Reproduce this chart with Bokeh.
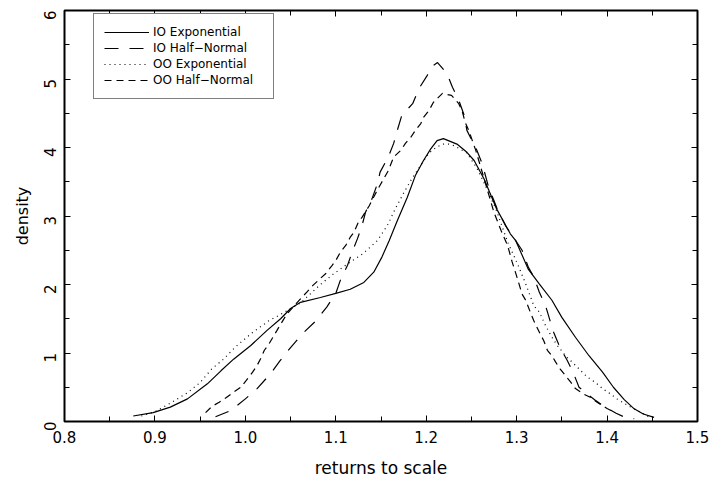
import math
from bokeh.plotting import figure
from bokeh.models import (Range1d, FixedTicker, LinearAxis, Legend, LegendItem)
from bokeh.embed import file_html
from bokeh.resources import INLINE

# ---------------- data ----------------
io_exp_x = [0.876, 0.898, 0.917, 0.936, 0.958, 0.973, 0.987, 1.006, 1.024, 1.039, 1.050, 1.061,
            1.083, 1.100, 1.116, 1.131, 1.142, 1.151, 1.159, 1.168, 1.179, 1.188, 1.197, 1.205,
            1.212, 1.219, 1.234, 1.245, 1.253, 1.264, 1.278, 1.293, 1.299, 1.313, 1.325, 1.339,
            1.350, 1.365, 1.380, 1.395, 1.407, 1.419, 1.430, 1.440, 1.452]
io_exp_y = [0.08, 0.13, 0.21, 0.33, 0.55, 0.74, 0.91, 1.11, 1.33, 1.50, 1.65, 1.74,
            1.81, 1.87, 1.93, 2.03, 2.18, 2.40, 2.64, 2.93, 3.27, 3.59, 3.81, 3.98,
            4.10, 4.13, 4.05, 3.93, 3.81, 3.54, 3.10, 2.74, 2.64, 2.22, 2.01, 1.77,
            1.52, 1.23, 0.96, 0.72, 0.50, 0.32, 0.185, 0.11, 0.06]

io_hn_x = [0.967, 0.984, 1.000, 1.013, 1.028, 1.038, 1.050, 1.063, 1.078, 1.090, 1.100, 1.105,
           1.113, 1.118, 1.124, 1.129, 1.133, 1.140, 1.146, 1.149, 1.158, 1.164, 1.168, 1.173,
           1.185, 1.192, 1.201, 1.208, 1.2125, 1.223, 1.229, 1.236, 1.242, 1.245, 1.256, 1.262,
           1.269, 1.278, 1.288, 1.300, 1.306, 1.313, 1.319, 1.325, 1.332, 1.337, 1.341, 1.348,
           1.356, 1.363, 1.369, 1.378, 1.387, 1.398, 1.410, 1.420, 1.430]
io_hn_y = [0.07, 0.16, 0.33, 0.48, 0.70, 0.88, 1.08, 1.28, 1.47, 1.67, 1.87, 2.06,
           2.28, 2.47, 2.67, 2.86, 3.06, 3.25, 3.47, 3.64, 3.86, 4.06, 4.25, 4.47,
           4.64, 4.86, 5.05, 5.20, 5.24, 5.08, 4.88, 4.69, 4.47, 4.25, 3.96, 3.76,
           3.42, 3.12, 2.85, 2.62, 2.50, 2.25, 2.11, 1.89, 1.69, 1.47, 1.30, 1.08,
           0.89, 0.70, 0.50, 0.40, 0.31, 0.21, 0.12, 0.06, 0.04]

oo_exp_x = [0.885, 0.901, 0.920, 0.936, 0.950, 0.963, 0.975, 0.990, 1.008, 1.026, 1.044, 1.061,
            1.083, 1.097, 1.114, 1.130, 1.146, 1.157, 1.166, 1.174, 1.183, 1.194, 1.203, 1.212,
            1.219, 1.225, 1.232, 1.245, 1.256, 1.267, 1.278, 1.290, 1.301, 1.310, 1.319, 1.325,
            1.332, 1.339, 1.345, 1.354, 1.365, 1.378, 1.387, 1.395, 1.404, 1.411, 1.426, 1.441,
            1.446]
oo_exp_y = [0.08, 0.15, 0.29, 0.42, 0.57, 0.77, 0.90, 1.10, 1.30, 1.47, 1.60, 1.73,
            2.00, 2.15, 2.31, 2.45, 2.64, 2.86, 3.11, 3.31, 3.52, 3.74, 3.92, 4.01,
            4.05, 4.05, 4.02, 3.92, 3.70, 3.40, 3.07, 2.62, 2.30, 2.01, 1.69, 1.60,
            1.40, 1.23, 1.11, 0.96, 0.82, 0.65, 0.57, 0.48, 0.40, 0.33, 0.21, 0.11,
            0.07]

oo_hn_x = [0.956, 0.963, 0.971, 0.979, 0.987, 0.995, 1.001, 1.008, 1.013, 1.017, 1.021, 1.026,
           1.030, 1.035, 1.039, 1.046, 1.054, 1.068, 1.075, 1.083, 1.089, 1.096, 1.100, 1.105,
           1.111, 1.116, 1.120, 1.125, 1.129, 1.137, 1.146, 1.158, 1.164, 1.172, 1.177, 1.183,
           1.188, 1.194, 1.197, 1.203, 1.208, 1.218, 1.228, 1.236, 1.240, 1.243, 1.247, 1.255,
           1.265, 1.275, 1.283, 1.290, 1.295, 1.301, 1.306, 1.310, 1.315, 1.319, 1.326, 1.330,
           1.334, 1.339, 1.343, 1.348, 1.354, 1.360, 1.365, 1.374, 1.382, 1.389, 1.400, 1.406]
oo_hn_y = [0.13, 0.22, 0.28, 0.35, 0.43, 0.50, 0.60, 0.72, 0.82, 0.92, 1.04, 1.13,
           1.22, 1.33, 1.42, 1.57, 1.69, 1.89, 1.99, 2.09, 2.16, 2.28, 2.35, 2.47,
           2.57, 2.69, 2.76, 2.91, 2.98, 3.15, 3.38, 3.66, 3.86, 3.96, 4.06, 4.15,
           4.25, 4.35, 4.44, 4.54, 4.66, 4.79, 4.76, 4.64, 4.52, 4.37, 4.25, 3.95,
           3.50, 3.05, 2.78, 2.57, 2.33, 2.08, 1.86, 1.77, 1.60, 1.47, 1.28, 1.18,
           1.04, 0.96, 0.87, 0.77, 0.67, 0.57, 0.48, 0.40, 0.35, 0.28, 0.19, 0.15]

series_names = ["IO Exponential", "IO Half\u2212Normal", "OO Exponential", "OO Half\u2212Normal"]

x_ticks = [0.8, 0.9, 1.0, 1.1, 1.2, 1.3, 1.4, 1.5]
x_tick_labels = ["0.8", "0.9", "1.0", "1.1", "1.2", "1.3", "1.4", "1.5"]
y_ticks = [0, 1, 2, 3, 4, 5, 6]
y_tick_labels = ["0", "1", "2", "3", "4", "5", "6"]
x_title = "returns to scale"
y_title = "density"

# ---------------- figure ----------------
FONT = "DejaVu Sans"
x_minor = [round((a + b) / 2, 3) for a, b in zip(x_ticks[:-1], x_ticks[1:])]
y_minor = [(a + b) / 2 for a, b in zip(y_ticks[:-1], y_ticks[1:])]

p = figure(width=713, height=480, x_range=Range1d(0.8, 1.5), y_range=Range1d(0, 6),
           output_backend="svg", toolbar_location=None,
           min_border_left=64, min_border_right=16, min_border_top=10, min_border_bottom=59)
p.background_fill_color = "white"
p.border_fill_color = "white"
p.grid.visible = False
p.outline_line_color = "black"
p.outline_line_width = 2
p.outline_line_alpha = 1


def style_axis(ax, ticks, minor, show_labels):
    ax.ticker = FixedTicker(ticks=ticks, minor_ticks=minor)
    ax.axis_line_color = None
    ax.major_tick_in = 6
    ax.major_tick_out = 0
    ax.minor_tick_in = 5
    ax.minor_tick_out = 0
    ax.major_tick_line_color = "black"
    ax.minor_tick_line_color = "black"
    ax.major_tick_line_width = 1
    ax.minor_tick_line_width = 1
    if show_labels:
        ax.major_label_text_font = FONT
        ax.major_label_text_font_size = "15px"
        ax.major_label_text_color = "black"
        ax.axis_label_text_font = FONT
        ax.axis_label_text_font_style = "normal"
        ax.axis_label_text_color = "black"
    else:
        ax.major_label_text_color = None
        ax.major_label_text_font_size = "1px"
        ax.major_label_standoff = 0


style_axis(p.xaxis[0], x_ticks, x_minor, True)
p.xaxis[0].major_label_overrides = {t: l for t, l in zip(x_ticks, x_tick_labels)}
p.xaxis[0].axis_label = x_title
p.xaxis[0].axis_label_text_font_size = "17px"
p.xaxis[0].major_label_standoff = 9
p.xaxis[0].axis_label_standoff = 12

style_axis(p.yaxis[0], y_ticks, y_minor, True)
p.yaxis[0].major_label_overrides = {t: l for t, l in zip(y_ticks, y_tick_labels)}
p.yaxis[0].axis_label = y_title
p.yaxis[0].axis_label_text_font_size = "16px"
p.yaxis[0].major_label_orientation = math.pi / 2
p.yaxis[0].major_label_standoff = 15
p.yaxis[0].axis_label_standoff = 3

top_ax = LinearAxis()
style_axis(top_ax, x_ticks, x_minor, False)
p.add_layout(top_ax, "above")
right_ax = LinearAxis()
style_axis(right_ax, y_ticks, y_minor, False)
p.add_layout(right_ax, "right")

dashes = ["solid", "14 11", "1 4", "7 5"]
xs = [io_exp_x, io_hn_x, oo_exp_x, oo_hn_x]
ys = [io_exp_y, io_hn_y, oo_exp_y, oo_hn_y]
items = []
for name, dx, dy, dash in zip(series_names, xs, ys, dashes):
    r = p.line(dx, dy, line_color="black", line_width=1.2, line_dash=dash)
    items.append(LegendItem(label=name, renderers=[r]))

legend = Legend(items=items, location=(29, 322))
legend.label_text_font = FONT
legend.label_text_font_size = "12px"
legend.label_text_color = "black"
legend.glyph_width = 45
legend.glyph_height = 16
legend.label_height = 16
legend.label_width = 110
legend.label_standoff = 4
legend.spacing = 0
legend.padding = 10
legend.margin = 0
legend.border_line_color = "black"
legend.border_line_width = 1
legend.background_fill_color = "white"
legend.background_fill_alpha = 1
p.add_layout(legend, "center")

open("out.html", "w").write(file_html(p, INLINE))
